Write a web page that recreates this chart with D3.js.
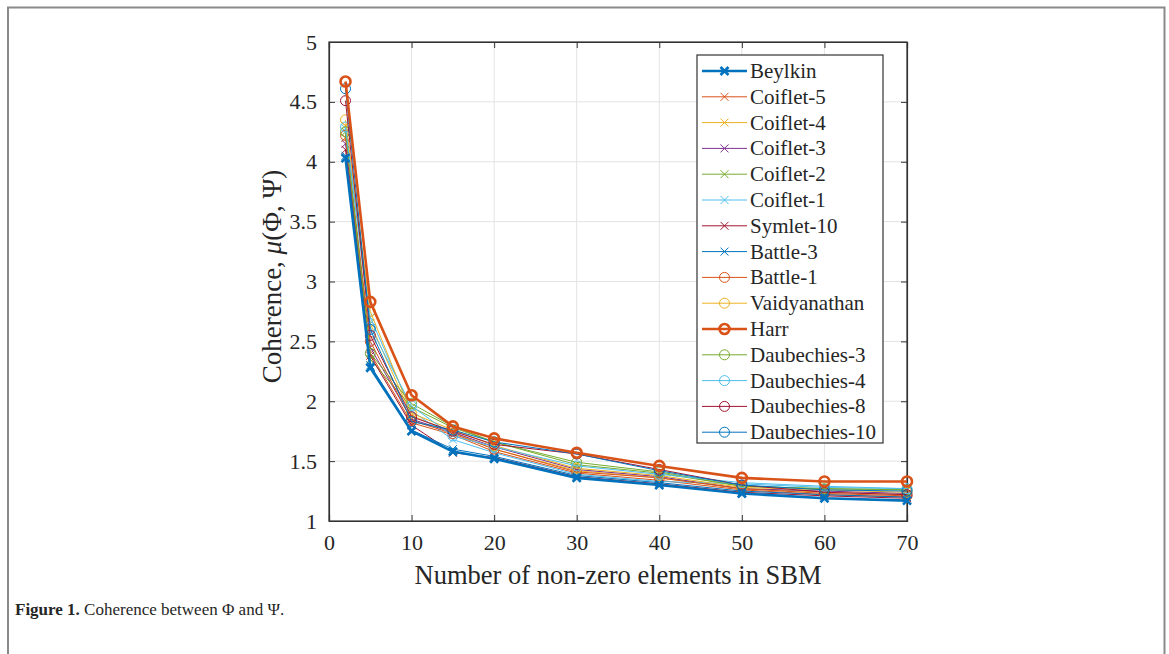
<!DOCTYPE html>
<html lang="en">
<head>
    <meta charset="UTF-8">
    <title>Coherence between Phi and Psi</title>
    <script src="https://d3js.org/d3.v7.min.js"></script>
    <style>
        body { margin: 0; background: #fff; }
        svg text { font-family: "Liberation Serif", "Times New Roman", serif; fill: #262626; }
    </style>
</head>
<body>
    <svg id="chart" width="1169" height="654"></svg>

    <script>
        // number of non-zero elements in SBM
        const xValues = [2, 5, 10, 15, 20, 30, 40, 50, 60, 70];
        const xTicks = [0, 10, 20, 30, 40, 50, 60, 70];
        const yTicks = [1, 1.5, 2, 2.5, 3, 3.5, 4, 4.5, 5];

        const names = ["Beylkin", "Coiflet-5", "Coiflet-4", "Coiflet-3", "Coiflet-2", "Coiflet-1",
            "Symlet-10", "Battle-3", "Battle-1", "Vaidyanathan", "Harr", "Daubechies-3",
            "Daubechies-4", "Daubechies-8", "Daubechies-10"];

        const beylkin = [4.03, 2.28, 1.75, 1.58, 1.52, 1.36, 1.30, 1.23, 1.19, 1.17];
        const coiflet5 = [4.20, 2.40, 1.82, 1.72, 1.58, 1.40, 1.34, 1.26, 1.22, 1.20];
        const coiflet4 = [4.30, 2.65, 1.88, 1.74, 1.60, 1.42, 1.36, 1.27, 1.24, 1.22];
        const coiflet3 = [4.15, 2.45, 1.85, 1.74, 1.62, 1.43, 1.37, 1.27, 1.25, 1.23];
        const coiflet2 = [4.25, 2.35, 1.95, 1.78, 1.66, 1.47, 1.40, 1.29, 1.27, 1.26];
        const coiflet1 = [4.28, 2.70, 1.92, 1.68, 1.57, 1.39, 1.33, 1.31, 1.28, 1.27];
        const symlet10 = [4.10, 2.38, 1.80, 1.57, 1.53, 1.37, 1.31, 1.24, 1.21, 1.19];
        const battle3 = [4.05, 2.30, 1.76, 1.60, 1.54, 1.38, 1.32, 1.25, 1.22, 1.20];
        const battle1 = [4.22, 2.50, 1.84, 1.73, 1.60, 1.41, 1.36, 1.27, 1.23, 1.21];
        const vaidyanathan = [4.35, 2.75, 1.90, 1.76, 1.63, 1.44, 1.38, 1.28, 1.26, 1.24];
        const harr = [4.67, 2.83, 2.05, 1.79, 1.69, 1.57, 1.46, 1.36, 1.33, 1.33];
        const daub3 = [4.25, 2.40, 1.98, 1.79, 1.66, 1.49, 1.41, 1.29, 1.27, 1.26];
        const daub4 = [4.29, 2.62, 1.96, 1.71, 1.62, 1.46, 1.39, 1.32, 1.29, 1.27];
        const daub8 = [4.51, 2.55, 1.87, 1.75, 1.64, 1.56, 1.43, 1.30, 1.24, 1.22];
        const daub10 = [4.61, 2.60, 1.83, 1.76, 1.66, 1.56, 1.42, 1.30, 1.26, 1.25];

        const allValues = [beylkin, coiflet5, coiflet4, coiflet3, coiflet2, coiflet1, symlet10,
            battle3, battle1, vaidyanathan, harr, daub3, daub4, daub8, daub10];

        // matlab default colour order
        const colors = ["#0072BD", "#D95319", "#EDB120", "#7E2F8E", "#77AC30", "#4DBEEE", "#A2142F",
            "#0072BD", "#D95319", "#EDB120", "#D95319", "#77AC30", "#4DBEEE", "#A2142F", "#0072BD"];
        const markers = ["x", "x", "x", "x", "x", "x", "x", "x", "o", "o", "o", "o", "o", "o", "o"];
        const thick = ["Beylkin", "Harr"];

        const series = names.map((name, i) => ({
            name: name,
            color: colors[i],
            marker: markers[i],
            width: thick.includes(name) ? 2.6 : 1,
            points: xValues.map((x, j) => ({ x: x, y: allValues[i][j] }))
        }));

        const svg = d3.select("#chart");

        // outer figure frame (no bottom edge)
        svg.append("path")
            .attr("d", "M8,654 L8,7.5 L1164.5,7.5 L1164.5,654")
            .attr("fill", "none")
            .attr("stroke", "#8a8a8a")
            .attr("stroke-width", 2);

        const margin = { top: 42, left: 329 };
        const width = 578;
        const height = 479;
        const g = svg.append("g").attr("transform", `translate(${margin.left},${margin.top})`);

        const x = d3.scaleLinear().domain([0, 70]).range([0, width]);
        const y = d3.scaleLinear().domain([1, 5]).range([height, 0]);

        // grid
        g.append("g").selectAll("line").data(xTicks.slice(1, -1)).join("line")
            .attr("x1", d => x(d)).attr("x2", d => x(d))
            .attr("y1", 0).attr("y2", height)
            .attr("stroke", "#e3e3e3").attr("stroke-width", 1);
        g.append("g").selectAll("line").data(yTicks.slice(1, -1)).join("line")
            .attr("y1", d => y(d)).attr("y2", d => y(d))
            .attr("x1", 0).attr("x2", width)
            .attr("stroke", "#e3e3e3").attr("stroke-width", 1);

        // axes, ticks pointing in
        const axisColor = "#333";
        const fmt = d3.format("~g");
        const xAxis = g.append("g")
            .attr("transform", `translate(0,${height})`)
            .call(d3.axisBottom(x).tickValues(xTicks).tickSize(-6).tickPadding(13).tickFormat(fmt));
        const xTop = g.append("g")
            .call(d3.axisTop(x).tickValues(xTicks).tickSize(-6).tickFormat(""));
        const yAxis = g.append("g")
            .call(d3.axisLeft(y).tickValues(yTicks).tickSize(-6).tickPadding(12).tickFormat(fmt));
        const yRight = g.append("g")
            .attr("transform", `translate(${width},0)`)
            .call(d3.axisRight(y).tickValues(yTicks).tickSize(-6).tickFormat(""));

        [xAxis, xTop, yAxis, yRight].forEach(a => {
            a.select(".domain").attr("stroke", axisColor).attr("stroke-width", 1.2);
            a.selectAll(".tick line").attr("stroke", axisColor);
            a.selectAll(".tick text")
                .attr("font-family", "Liberation Serif")
                .attr("font-size", 22)
                .attr("fill", "#262626");
        });
        g.append("rect")
            .attr("width", width).attr("height", height)
            .attr("fill", "none").attr("stroke", axisColor).attr("stroke-width", 1.2);

        // axis titles
        g.append("text")
            .attr("x", width / 2)
            .attr("y", height + 63)
            .attr("text-anchor", "middle")
            .attr("font-size", 26.5)
            .text("Number of non-zero elements in SBM");

        const yt = g.append("text")
            .attr("transform", `translate(-48,${height / 2 - 5}) rotate(-90)`)
            .attr("text-anchor", "middle")
            .attr("font-size", 27);
        yt.append("tspan").text("Coherence, ");
        yt.append("tspan").attr("font-style", "italic").text("μ");
        yt.append("tspan").text("(Φ, Ψ)");

        const line = d3.line()
            .x(d => x(d.x))
            .y(d => y(d.y));

        function drawMarker(sel, s, size) {
            if (s.marker === "o") {
                sel.append("circle")
                    .attr("r", size)
                    .attr("fill", "none")
                    .attr("stroke", s.color)
                    .attr("stroke-width", s.width);
            } else {
                sel.append("path")
                    .attr("d", `M${-size},${-size}L${size},${size}M${-size},${size}L${size},${-size}`)
                    .attr("stroke", s.color)
                    .attr("stroke-width", s.width);
            }
        }

        // draw thin series first, thick ones on top (Beylkin and Harr)
        const order = series.filter(s => s.width === 1).concat(series.filter(s => s.width > 1));
        order.forEach(s => {
            const sg = g.append("g");
            sg.append("path")
                .datum(s.points)
                .attr("fill", "none")
                .attr("stroke", s.color)
                .attr("stroke-width", s.width)
                .attr("stroke-linejoin", "round")
                .attr("d", line);
            s.points.forEach(p => {
                const m = sg.append("g").attr("transform", `translate(${x(p.x)},${y(p.y)})`);
                drawMarker(m, s, s.marker === "o" ? 5 : 4);
            });
        });

        // legend
        const legend = svg.append("g").attr("transform", "translate(697,55)");
        legend.append("rect")
            .attr("width", 186).attr("height", 388)
            .attr("fill", "#fff")
            .attr("stroke", axisColor).attr("stroke-width", 1.2);
        series.forEach((s, i) => {
            const row = legend.append("g").attr("transform", `translate(0,${16 + i * 25.8})`);
            row.append("line")
                .attr("x1", 5).attr("x2", 50)
                .attr("stroke", s.color)
                .attr("stroke-width", s.width);
            const m = row.append("g").attr("transform", "translate(27.5,0)");
            drawMarker(m, s, s.marker === "o" ? 5 : 4);
            row.append("text")
                .attr("x", 53)
                .attr("y", 7)
                .attr("font-size", 21)
                .text(s.name);
        });

        // caption
        const cap = svg.append("text")
            .attr("x", 15)
            .attr("y", 615)
            .attr("font-size", 17);
        cap.append("tspan").attr("font-weight", "bold").text("Figure 1.");
        cap.append("tspan").text(" Coherence between Φ and Ψ.");
    </script>
</body>
</html>
